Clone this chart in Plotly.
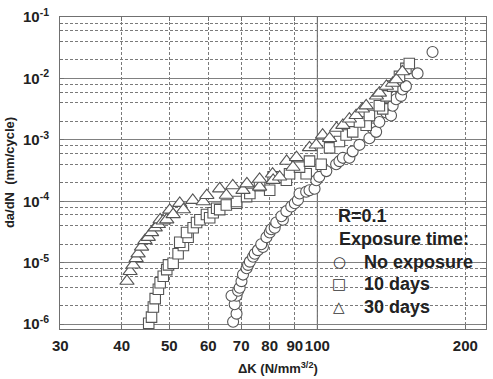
import math
import plotly.graph_objects as go

# ---- data ----
no_exp_dk = [67.4, 68.5, 67.9, 68.5, 66.9, 69.0, 69.5, 70.1, 70.6, 71.8, 72.3, 72.9, 74.0, 74.6,
             75.7, 77.5, 76.9, 78.8, 80.0, 80.6, 81.9, 82.5, 85.1, 84.5, 86.5, 88.5, 90.0, 91.3,
             92.0, 94.9, 96.4, 98.7, 99.5, 100.9, 104.3, 109.2, 110.9, 112.7, 116.2, 118.0,
             121.8, 127.6, 129.6, 131.7, 133.7, 138.0, 141.2, 142.3, 144.6, 148.0, 149.1,
             151.4, 159.9, 171.5]
no_exp_rate = [1.09e-6, 1.48e-6, 2.1e-6, 2.9e-6, 2.9e-6, 3.5e-6, 3.9e-6, 5.0e-6, 6.4e-6, 8.1e-6,
               9.2e-6, 1.04e-5, 1.25e-5, 1.4e-5, 1.6e-5, 1.8e-5, 2.0e-5, 2.6e-5, 3.1e-5, 3.5e-5,
               3.7e-5, 4.5e-5, 5.0e-5, 5.7e-5, 6.9e-5, 8.2e-5, 9.3e-5, 1.05e-4, 1.34e-4, 1.43e-4,
               1.51e-4, 1.6e-4, 2.2e-4, 2.5e-4, 3.1e-4, 4.0e-4, 4.5e-4, 5.1e-4, 5.1e-4, 6.5e-4,
               8.3e-4, 1.06e-3, 1.53e-3, 1.35e-3, 1.95e-3, 2.8e-3, 2.5e-3, 3.6e-3, 4.6e-3,
               5.2e-3, 6.6e-3, 7.5e-3, 1.21e-2, 2.7e-2]

d10_dk = [45.4, 46.0, 46.4, 46.8, 47.5, 47.9, 48.6, 49.4, 49.8, 50.9, 52.1, 53.4, 52.5, 54.6,
          54.2, 55.9, 56.8, 57.7, 59.5, 60.4, 61.4, 62.4, 63.3, 65.3, 68.5, 68.5, 71.8, 72.9,
          80.0, 76.3, 86.5, 81.3, 87.8, 94.9, 92.0, 101.8, 96.4, 105.9, 110.9, 114.4, 118.0,
          125.7, 121.8, 127.6, 135.8, 133.7, 138.0, 142.3, 146.9, 151.4, 153.8]
d10_rate = [1.03e-6, 1.3e-6, 1.9e-6, 2.6e-6, 3.7e-6, 4.7e-6, 6.0e-6, 7.7e-6, 9.2e-6, 9.8e-6,
            1.4e-5, 1.9e-5, 2.15e-5, 2.6e-5, 3.1e-5, 3.7e-5, 4.5e-5, 5.0e-5, 6.1e-5, 5.4e-5,
            6.5e-5, 7.7e-5, 7.3e-5, 8.7e-5, 9.3e-5, 9.9e-5, 1.19e-4, 1.34e-4, 1.51e-4, 1.8e-4,
            2.2e-4, 2.5e-4, 2.8e-4, 2.8e-4, 3.6e-4, 4.0e-4, 4.5e-4, 7.4e-4, 9.4e-4, 1.2e-3,
            1.35e-3, 1.73e-3, 1.95e-3, 2.5e-3, 3.2e-3, 3.6e-3, 5.2e-3, 7.5e-3, 1.08e-2,
            1.46e-2, 1.75e-2]

d30_dk = [41.0, 41.6, 42.2, 42.8, 43.2, 43.9, 44.6, 45.3, 46.0, 46.8, 47.5, 47.9, 48.6, 49.4,
          50.1, 50.9, 52.5, 53.4, 55.8, 58.6, 59.6, 63.3, 65.3, 67.3, 70.6, 71.9, 76.3, 76.3,
          81.1, 81.3, 83.8, 86.6, 89.2, 90.7, 96.4, 99.5, 102.5, 105.9, 109.4, 112.7, 116.2,
          119.9, 123.5, 125.7, 131.9, 133.7, 138.2, 142.3, 144.8, 148.9]
d30_rate = [5.0e-6, 7.2e-6, 9.2e-6, 1.17e-5, 1.4e-5, 1.8e-5, 2.3e-5, 2.6e-5, 3.1e-5, 3.7e-5,
            4.2e-5, 5.0e-5, 4.8e-5, 5.0e-5, 7.2e-5, 6.1e-5, 9.3e-5, 7.3e-5, 1.04e-4, 9.9e-5,
            1.25e-4, 1.6e-4, 1.26e-4, 1.8e-4, 1.51e-4, 1.93e-4, 1.71e-4, 2.3e-4, 2.8e-4, 2.2e-4,
            2.5e-4, 4.5e-4, 3.6e-4, 5.2e-4, 7.5e-4, 8.3e-4, 1.2e-3, 1.06e-3, 1.55e-3, 1.73e-3,
            2.2e-3, 2.5e-3, 3.2e-3, 3.6e-3, 5.2e-3, 5.8e-3, 7.5e-3, 8.4e-3, 9.6e-3, 1.29e-2]

x_ticks = [30, 40, 50, 60, 70, 80, 90, 100, 200]
y_ticks = [1e-6, 1e-5, 1e-4, 1e-3, 1e-2, 1e-1]
y_ticktext = ["10<sup>-6</sup>", "10<sup>-5</sup>", "10<sup>-4</sup>", "10<sup>-3</sup>",
              "10<sup>-2</sup>", "10<sup>-1</sup>"]
y_minor = [m * 10.0 ** e for e in range(-6, -1) for m in (2, 4, 6, 8)]

legend_title = ["R=0.1", "Exposure time:"]
legend_labels = ["No exposure", "10 days", "30 days"]
legend_glyphs = ["\u25CB", "\u25A1", "\u25B3"]

# ---- figure ----
W, H = 493, 379
ML, MR, MT, MB = 60, 6, 9, 50
xr = [math.log10(30) - 0.0005, math.log10(220.3)]
yr = [-6.08, -0.999]

mk_line = dict(color="#555555", width=1.1)
fig = go.Figure()
fig.add_trace(go.Scatter(x=no_exp_dk, y=no_exp_rate, mode="markers", name=legend_labels[0],
                         marker=dict(symbol="circle", size=11, color="white", line=mk_line)))
fig.add_trace(go.Scatter(x=d10_dk, y=d10_rate, mode="markers", name=legend_labels[1],
                         marker=dict(symbol="square", size=10.5, color="white", line=mk_line)))
fig.add_trace(go.Scatter(x=d30_dk, y=d30_rate, mode="markers", name=legend_labels[2],
                         marker=dict(symbol="triangle-up", size=12.5, color="white", line=mk_line)))

tickfont = dict(family="Liberation Sans", size=15, color="#222222", weight="bold")
axis_common = dict(type="log", showline=True, linecolor="#707070", linewidth=1,
                   mirror="allticks", ticks="inside", ticklen=4, tickcolor="#707070",
                   tickfont=tickfont, zeroline=False, ticklabeloverflow="allow", tickangle=0)

fig.update_xaxes(range=xr, tickvals=x_ticks, ticktext=[str(v) for v in x_ticks],
                 showgrid=True, gridcolor="#7a7a7a", griddash="3px,2px", gridwidth=1,
                 ticklabelstandoff=3, **axis_common)
fig.update_yaxes(range=yr, tickvals=y_ticks, ticktext=y_ticktext,
                 showgrid=True, gridcolor="#808080", gridwidth=1, ticklabelstandoff=7,
                 minor=dict(tickvals=y_minor, showgrid=True, gridcolor="#7a7a7a",
                            griddash="3px,2px", gridwidth=1, ticks="inside", ticklen=3,
                            tickcolor="#707070"),
                 **axis_common)

def xpaper(v):
    return (math.log10(v) - xr[0]) / (xr[1] - xr[0])

plot_h = H - MT - MB
plot_w = W - ML - MR
x100 = xpaper(100)
shapes = [
    dict(type="rect", xref="paper", yref="paper", x0=x100, x1=1 - 4 / plot_w,
         y0=3 / plot_h, y1=(H - MB - 191) / plot_h, fillcolor="white",
         line=dict(width=0), layer="between"),
    dict(type="line", xref="paper", yref="paper", x0=x100, x1=x100, y0=0, y1=1,
         line=dict(color="#555555", width=1), layer="between"),
]

def yp(px):
    return (H - MB - px) / plot_h

def xp(px):
    return (px - ML) / plot_w

lf = dict(family="Liberation Sans", size=18, color="#222222", weight="bold")
ann = [
    dict(x=xp(337), y=yp(213), text=legend_title[0]),
    dict(x=xp(338), y=yp(237), text=legend_title[1]),
]
rows = [260, 283, 306]
for g, lab, ry in zip(legend_glyphs, legend_labels, rows):
    ann.append(dict(x=xp(363), y=yp(ry), text=lab))
    ann.append(dict(x=xp(340), y=yp(ry), text=g, xanchor="center",
                    font=dict(family="DejaVu Sans", size=15, color="#333333")))
annotations = []
for a in ann:
    base = dict(xref="paper", yref="paper", showarrow=False, xanchor="left", yanchor="middle",
                font=lf)
    base.update(a)
    annotations.append(base)

titlefont = dict(family="Liberation Sans", size=13, color="#222222", weight="bold")
annotations.append(dict(xref="paper", yref="paper", x=xp(279), y=yp(369), showarrow=False,
                        xanchor="center", yanchor="middle", font=titlefont,
                        text="\u0394K (N/mm<sup>3/2</sup>)"))
annotations.append(dict(xref="paper", yref="paper", x=xp(9), y=yp(169), showarrow=False,
                        xanchor="center", yanchor="middle", font=titlefont, textangle=-90,
                        text="da/dN  (mm/cycle)"))

fig.update_layout(width=W, height=H, margin=dict(l=ML, r=MR, t=MT, b=MB),
                  paper_bgcolor="white", plot_bgcolor="white", showlegend=False,
                  shapes=shapes, annotations=annotations)

fig.write_html("out.html")
